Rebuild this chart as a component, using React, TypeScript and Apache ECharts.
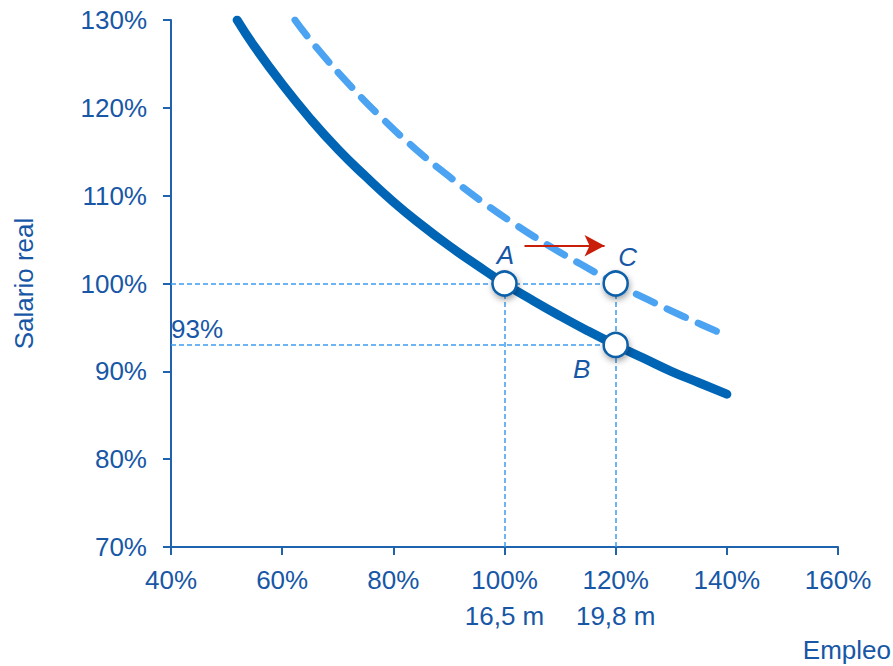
import React, { useEffect, useRef } from "react";
import * as echarts from "echarts";

// Solid curve: labour demand (Empleo %, Salario real %)
const demandX = [51.9, 55, 60, 65, 70, 75, 80, 85, 90, 95, 100, 105, 110, 115, 120, 125, 130, 135, 140];
const demandY = [130, 127.0, 122.7, 118.8, 115.3, 112.2, 109.3, 106.7, 104.3, 102.1, 100, 98.1, 96.3, 94.6, 93.0, 91.5, 90.0, 88.7, 87.4];
// Dashed curve: shifted demand
const shiftedX = [62.3, 66, 72, 78, 84, 90, 96, 102, 108, 114, 120, 126, 132, 138, 140];
const shiftedY = [130, 127.0, 122.7, 118.8, 115.3, 112.2, 109.3, 106.7, 104.3, 102.1, 100, 98.1, 96.3, 94.6, 94.0];
// Points
const pointNames = ["A", "B", "C"];
const pointX = [100, 120, 120];
const pointY = [100, 93, 100];
// Arrow
const arrowStart = [103.6, 104.3];
const arrowEnd = [118, 104.3];
// Axis ticks / extra labels
const xTicks = [40, 60, 80, 100, 120, 140, 160];
const yTicks = [70, 80, 90, 100, 110, 120, 130];
const xSubLabels: Record<number, string> = { 100: "16,5 m", 120: "19,8 m" };
const refLabel = "93%";

const TEXT = "#1757A6";
const AXIS = "#1F63AE";
const FONT = "'Liberation Sans', Arial, sans-serif";
const FS = 26;

export default function App() {
  const ref = useRef<HTMLDivElement>(null);
  useEffect(() => {
    if (!ref.current) return;
    const chart = echarts.init(ref.current, undefined, { renderer: "svg" });
    const guide = { color: "#3E9CEB", width: 1.5, type: [5, 3] as any, opacity: 1 };
    const labelPos: Record<string, any> = {
      A: { position: "top", offset: [1, 3] },
      B: { position: "bottom", offset: [-34, -7] },
      C: { position: "top", offset: [12, 5] },
    };
    chart.setOption({
      animation: false,
      textStyle: { fontFamily: FONT },
      grid: { left: 171, right: 55, top: 20, bottom: 119, containLabel: false },
      xAxis: {
        type: "value",
        min: xTicks[0],
        max: xTicks[xTicks.length - 1],
        interval: 20,
        splitLine: { show: false },
        axisLine: { lineStyle: { color: AXIS, width: 2 } },
        axisTick: { length: 8, lineStyle: { color: AXIS, width: 2 } },
        axisLabel: {
          color: TEXT,
          fontSize: FS,
          lineHeight: 36,
          margin: 15,
          fontFamily: FONT,
          formatter: (v: number) => (xSubLabels[v] ? `${v}%\n${xSubLabels[v]}` : `${v}%`),
        },
      },
      yAxis: {
        type: "value",
        min: yTicks[0],
        max: yTicks[yTicks.length - 1],
        interval: 10,
        splitLine: { show: false },
        axisLine: { show: true, lineStyle: { color: AXIS, width: 2 } },
        axisTick: { show: true, length: 8, lineStyle: { color: AXIS, width: 2 } },
        axisLabel: { color: TEXT, fontSize: FS, margin: 24, fontFamily: FONT, formatter: "{value}%" },
        name: "Salario real",
        nameLocation: "middle",
        nameGap: 134,
        nameTextStyle: { color: TEXT, fontSize: FS, fontFamily: FONT },
      },
      graphic: [
        {
          type: "text",
          right: 2,
          top: 637,
          style: { text: "Empleo", fill: TEXT, font: `${FS}px ${FONT}` },
        },
      ],
      series: [
        {
          type: "line",
          name: "guides",
          data: [],
          silent: true,
          markLine: {
            silent: true,
            symbol: ["none", "none"],
            lineStyle: guide,
            label: { show: false },
            emphasis: { disabled: true },
            data: [
              [{ coord: [xTicks[0], pointY[0]] }, { coord: [pointX[2], pointY[2]] }],
              [
                {
                  coord: [xTicks[0], pointY[1]],
                  label: {
                    show: true,
                    formatter: refLabel,
                    position: "insideStartTop",
                    distance: [0, 3],
                    color: TEXT,
                    fontSize: FS,
                    fontFamily: FONT,
                  },
                },
                { coord: [pointX[1], pointY[1]] },
              ],
              [{ coord: [pointX[0], yTicks[0]] }, { coord: [pointX[0], pointY[0]] }],
              [{ coord: [pointX[2], yTicks[0]] }, { coord: [pointX[2], pointY[2]] }],
            ],
          },
        },
        {
          type: "line",
          name: "shifted",
          data: shiftedX.map((x, i) => [x, shiftedY[i]]),
          smooth: true,
          showSymbol: false,
          lineStyle: { color: "#4BA3F2", width: 7, type: [20, 14], cap: "round" },
          z: 3,
        },
        {
          type: "line",
          name: "demand",
          data: demandX.map((x, i) => [x, demandY[i]]),
          smooth: true,
          showSymbol: false,
          lineStyle: { color: "#0065B5", width: 9, cap: "round" },
          z: 4,
        },
        {
          type: "line",
          name: "arrow",
          data: [],
          markLine: {
            silent: true,
            symbol: ["none", "arrow"],
            symbolSize: [16, 20],
            lineStyle: { color: "#C81E0A", width: 2, type: "solid" },
            label: { show: false },
            emphasis: { disabled: true },
            data: [[{ coord: arrowStart }, { coord: arrowEnd }]],
          },
          z: 5,
        },
        {
          type: "scatter",
          name: "points",
          z: 6,
          symbolSize: 24,
          itemStyle: {
            color: "#ffffff",
            opacity: 1,
            borderColor: "#0B5FA8",
            borderWidth: 2.5,
            shadowBlur: 6,
            shadowColor: "rgba(0,0,0,0.35)",
            shadowOffsetY: 3,
            shadowOffsetX: 1,
          },
          data: pointNames.map((n, i) => ({
            value: [pointX[i], pointY[i]],
            name: n,
            label: {
              show: true,
              formatter: n,
              color: TEXT,
              fontSize: FS,
              fontStyle: "italic",
              fontFamily: FONT,
              ...labelPos[n],
            },
          })),
        },
      ],
    });
    return () => chart.dispose();
  }, []);
  return <div ref={ref} style={{ position: "absolute", left: 0, top: 0, width: 893, height: 666 }} />;
}
